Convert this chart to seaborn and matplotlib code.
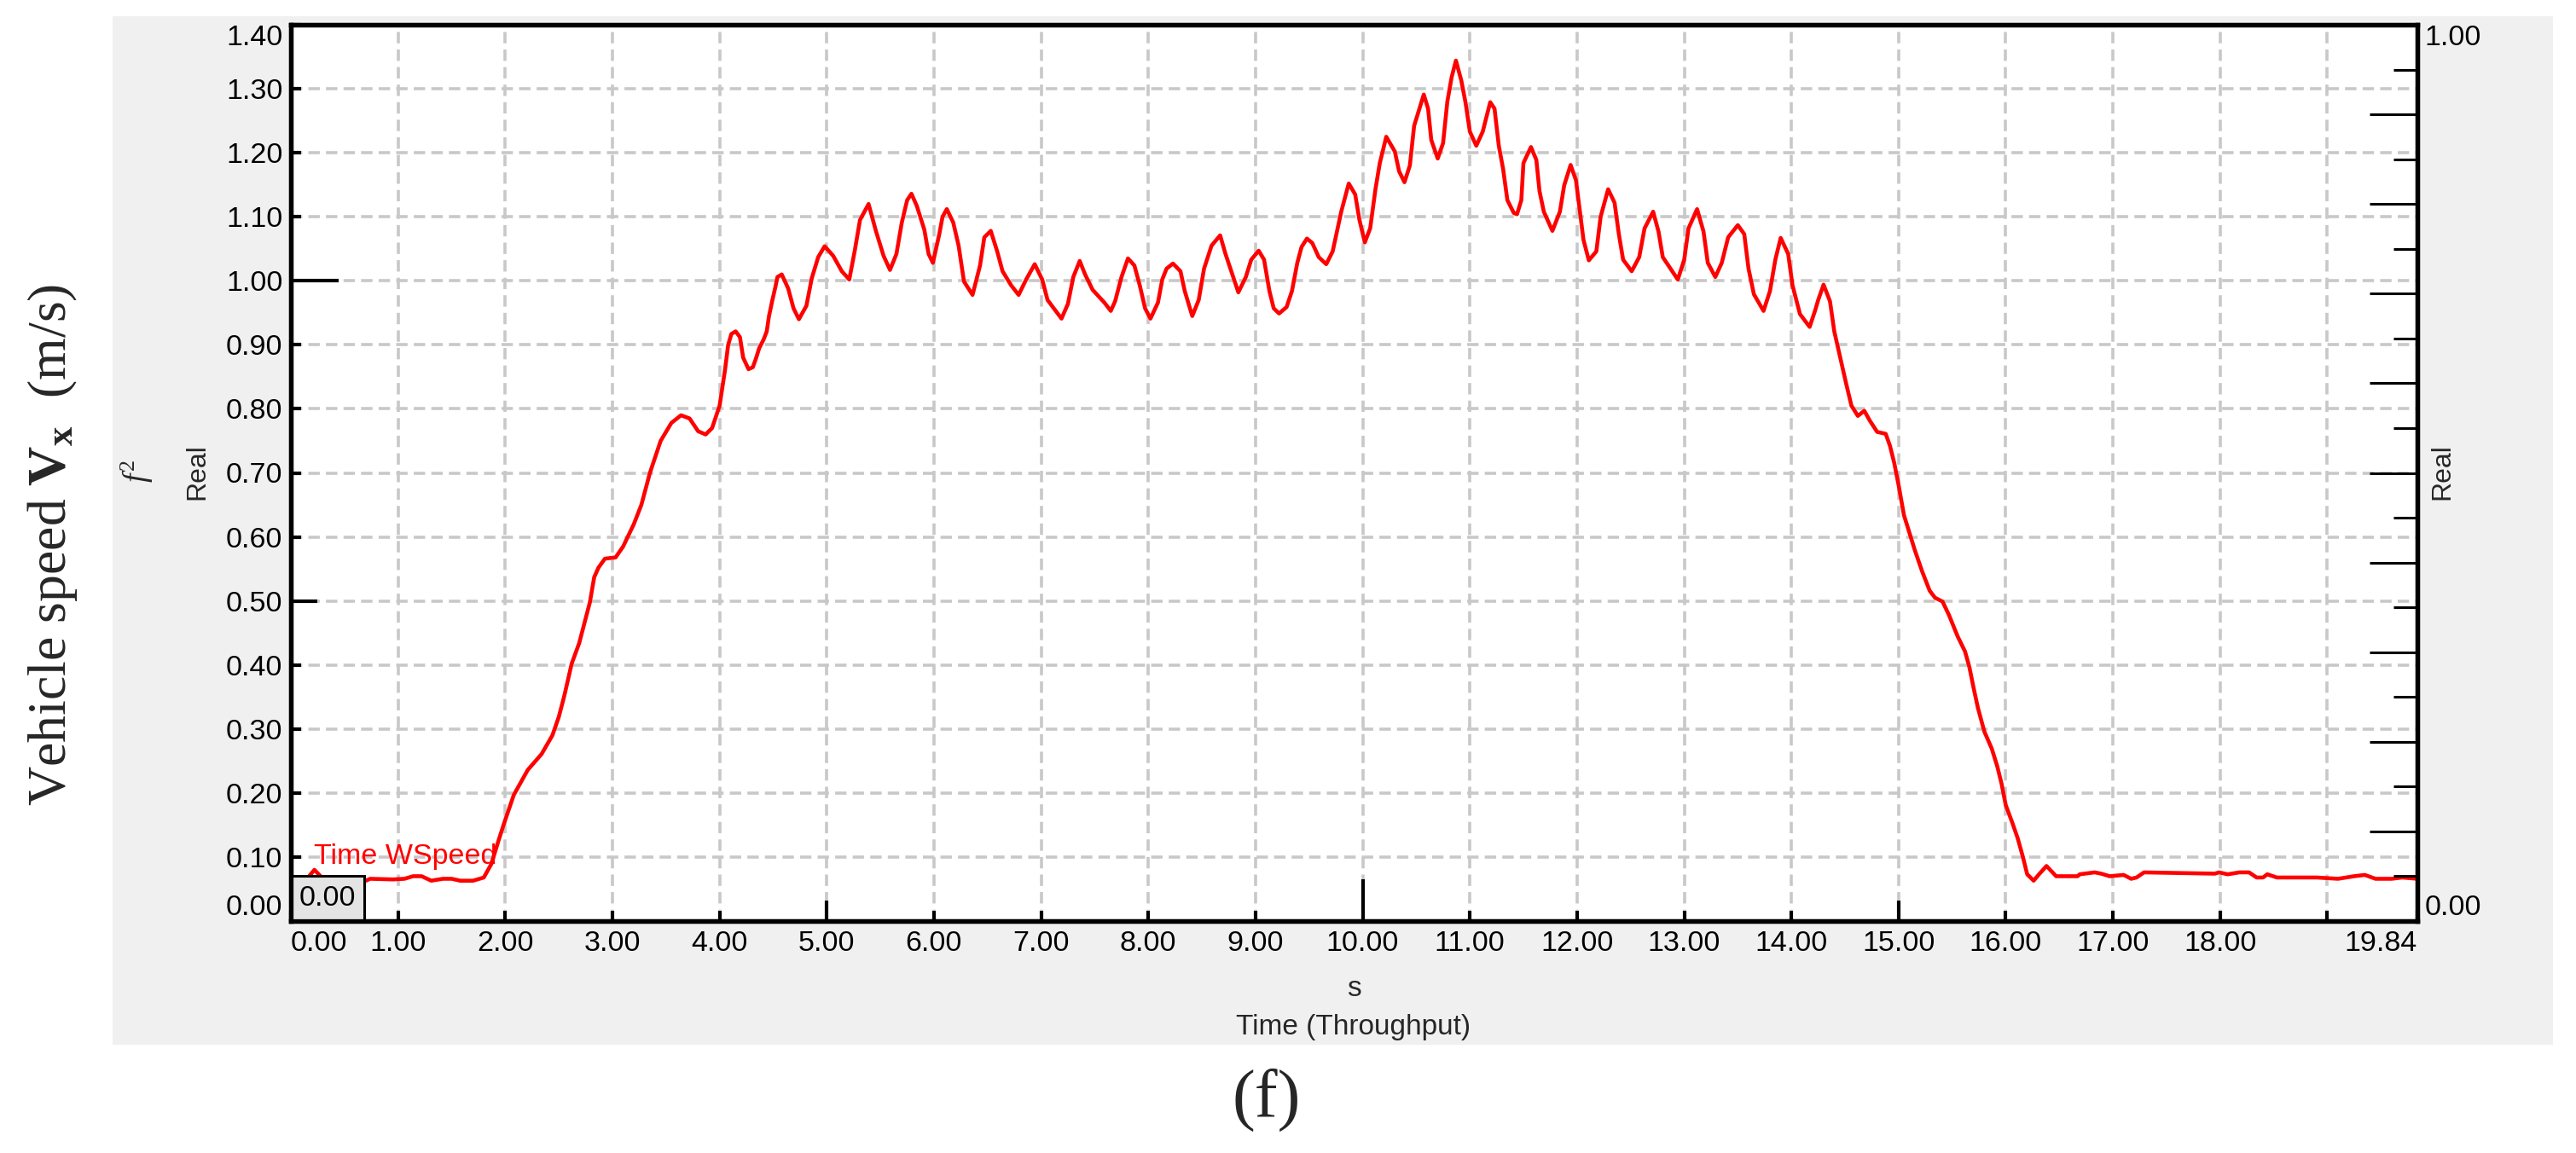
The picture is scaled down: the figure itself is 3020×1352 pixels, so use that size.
import numpy as np
import pandas as pd
import matplotlib
matplotlib.use("Agg")
import matplotlib.pyplot as plt
from matplotlib.patches import Rectangle
import seaborn as sns

# speed trace
time_s = [0.00, 0.15, 0.22, 0.30, 0.45, 0.70, 0.74, 0.95, 1.06, 1.14, 1.22, 1.31, 1.42, 1.50, 1.58, 1.70,
          1.80, 1.87, 1.94, 1.99, 2.08, 2.21, 2.34, 2.44, 2.50, 2.55, 2.62, 2.69, 2.74, 2.79, 2.83, 2.87,
          2.93, 3.03, 3.10, 3.20, 3.27, 3.35, 3.45, 3.55, 3.64, 3.72, 3.80, 3.87, 3.93, 4.00, 4.05, 4.08,
          4.11, 4.15, 4.19, 4.22, 4.27, 4.31, 4.34, 4.37, 4.41, 4.44, 4.46, 4.49, 4.52, 4.54, 4.58, 4.64,
          4.69, 4.74, 4.81, 4.86, 4.92, 4.98, 5.06, 5.14, 5.21, 5.26, 5.31, 5.39, 5.46, 5.53, 5.59, 5.65,
          5.70, 5.75, 5.79, 5.84, 5.91, 5.95, 5.99, 6.05, 6.08, 6.12, 6.18, 6.23, 6.28, 6.36, 6.43, 6.47,
          6.53, 6.59, 6.64, 6.72, 6.79, 6.86, 6.94, 7.01, 7.06, 7.19, 7.25, 7.30, 7.36, 7.41, 7.48, 7.59,
          7.65, 7.69, 7.75, 7.81, 7.87, 7.92, 7.97, 8.02, 8.09, 8.13, 8.17, 8.23, 8.30, 8.34, 8.41, 8.47,
          8.52, 8.59, 8.67, 8.72, 8.77, 8.84, 8.91, 8.96, 9.03, 9.08, 9.13, 9.17, 9.22, 9.29, 9.34, 9.39,
          9.43, 9.48, 9.53, 9.59, 9.66, 9.72, 9.76, 9.80, 9.87, 9.93, 9.97, 10.02, 10.07, 10.12, 10.16, 10.22,
          10.30, 10.34, 10.39, 10.44, 10.48, 10.57, 10.61, 10.64, 10.70, 10.75, 10.79, 10.83, 10.87, 10.92, 10.96, 11.00,
          11.06, 11.12, 11.19, 11.23, 11.27, 11.31, 11.35, 11.41, 11.44, 11.48, 11.50, 11.57, 11.62, 11.65, 11.69, 11.77,
          11.84, 11.88, 11.94, 11.99, 12.02, 12.06, 12.11, 12.18, 12.22, 12.29, 12.35, 12.39, 12.43, 12.51, 12.58, 12.63,
          12.71, 12.76, 12.80, 12.94, 13.00, 13.04, 13.12, 13.18, 13.22, 13.29, 13.35, 13.41, 13.50, 13.56, 13.60, 13.65,
          13.74, 13.80, 13.85, 13.90, 13.97, 14.01, 14.08, 14.17, 14.22, 14.25, 14.30, 14.36, 14.40, 14.46, 14.51, 14.56,
          14.62, 14.68, 14.73, 14.80, 14.88, 14.92, 14.96, 15.00, 15.05, 15.10, 15.15, 15.22, 15.29, 15.34, 15.41, 15.47,
          15.55, 15.62, 15.66, 15.70, 15.74, 15.80, 15.87, 15.92, 15.96, 16.00, 16.06, 16.11, 16.16, 16.20, 16.26, 16.31,
          16.38, 16.47, 16.67, 16.69, 16.83, 16.89, 16.97, 17.10, 17.17, 17.22, 17.29, 17.95, 17.99, 18.07, 18.18, 18.27,
          18.34, 18.40, 18.44, 18.53, 18.61, 18.90, 19.10, 19.25, 19.35, 19.45, 19.60, 19.70, 19.84]
speed = [0.062, 0.066, 0.080, 0.066, 0.063, 0.063, 0.066, 0.065, 0.066, 0.070, 0.070, 0.063, 0.066, 0.066, 0.063, 0.063,
         0.068, 0.089, 0.127, 0.153, 0.197, 0.236, 0.261, 0.290, 0.319, 0.351, 0.402, 0.434, 0.466, 0.498, 0.537, 0.552,
         0.566, 0.568, 0.585, 0.620, 0.650, 0.700, 0.750, 0.778, 0.790, 0.785, 0.765, 0.760, 0.770, 0.805, 0.860, 0.900,
         0.917, 0.921, 0.912, 0.880, 0.862, 0.865, 0.879, 0.895, 0.908, 0.921, 0.944, 0.968, 0.990, 1.006, 1.010, 0.988,
         0.957, 0.940, 0.961, 1.004, 1.037, 1.054, 1.039, 1.015, 1.002, 1.046, 1.095, 1.120, 1.077, 1.039, 1.017, 1.042,
         1.091, 1.126, 1.136, 1.117, 1.080, 1.042, 1.028, 1.073, 1.100, 1.112, 1.091, 1.055, 0.999, 0.978, 1.024, 1.068,
         1.078, 1.046, 1.015, 0.993, 0.978, 1.002, 1.026, 1.002, 0.970, 0.941, 0.964, 1.006, 1.031, 1.010, 0.986, 0.966,
         0.953, 0.968, 1.006, 1.035, 1.024, 0.993, 0.957, 0.941, 0.966, 1.002, 1.019, 1.027, 1.015, 0.984, 0.945, 0.970,
         1.019, 1.055, 1.071, 1.042, 1.017, 0.982, 1.006, 1.033, 1.047, 1.033, 0.984, 0.957, 0.949, 0.959, 0.984, 1.028,
         1.053, 1.066, 1.059, 1.037, 1.026, 1.046, 1.077, 1.108, 1.152, 1.135, 1.095, 1.060, 1.082, 1.144, 1.184, 1.225,
         1.202, 1.171, 1.154, 1.180, 1.242, 1.291, 1.269, 1.220, 1.191, 1.215, 1.280, 1.318, 1.344, 1.313, 1.278, 1.233,
         1.211, 1.233, 1.279, 1.269, 1.211, 1.175, 1.126, 1.106, 1.104, 1.126, 1.184, 1.209, 1.189, 1.140, 1.108, 1.078,
         1.108, 1.149, 1.181, 1.157, 1.117, 1.064, 1.032, 1.046, 1.100, 1.143, 1.122, 1.073, 1.033, 1.015, 1.037, 1.082,
         1.108, 1.077, 1.037, 1.002, 1.033, 1.082, 1.112, 1.077, 1.028, 1.006, 1.028, 1.068, 1.087, 1.073, 1.019, 0.979,
         0.953, 0.984, 1.033, 1.067, 1.042, 0.993, 0.948, 0.928, 0.953, 0.970, 0.994, 0.968, 0.921, 0.877, 0.840, 0.805,
         0.789, 0.797, 0.782, 0.764, 0.761, 0.742, 0.715, 0.681, 0.634, 0.607, 0.580, 0.546, 0.516, 0.505, 0.499, 0.478,
         0.445, 0.421, 0.397, 0.364, 0.333, 0.296, 0.269, 0.242, 0.215, 0.181, 0.154, 0.130, 0.100, 0.073, 0.063, 0.073,
         0.086, 0.070, 0.070, 0.073, 0.076, 0.074, 0.070, 0.072, 0.066, 0.068, 0.076, 0.074, 0.076, 0.073, 0.076, 0.076,
         0.068, 0.068, 0.073, 0.068, 0.068, 0.068, 0.066, 0.070, 0.072, 0.066, 0.066, 0.068, 0.066]

x_ticks = list(range(20)) + [19.84]
x_labels = ['%.2f' % t for t in range(19)] + ['', '19.84']
y_ticks = [round(0.1 * i, 1) for i in range(15)]
y_labels = ['%.2f' % v for v in y_ticks]
r_ticks = [round(0.05 * i, 2) for i in range(21)]
r_labels = ['0.00'] + [''] * 19 + ['1.00']

W, H = 3020, 1352
def fx(px):
    return px / W
def fy(py):
    return 1 - py / H

sns.set_theme(style='white')
plt.rcParams['font.family'] = ['Liberation Sans', 'DejaVu Sans']
plt.rcParams['mathtext.fontset'] = 'custom'
plt.rcParams['mathtext.rm'] = 'Liberation Serif'
plt.rcParams['mathtext.it'] = 'Liberation Serif:italic'
plt.rcParams['mathtext.bf'] = 'Liberation Serif:bold'

fig = plt.figure(figsize=(30.2, 13.52), dpi=100)
fig.patch.set_facecolor('white')
fig.add_artist(Rectangle((fx(132), fy(1225)), fx(2993) - fx(132), fy(19) - fy(1225),
                         transform=fig.transFigure, facecolor='#f0f0f0', edgecolor='none', zorder=-1))

ax = fig.add_axes([fx(341), fy(1080), fx(2834) - fx(341), fy(29) - fy(1080)])
ax.set_facecolor('white')

df = pd.DataFrame({'t': time_s, 'v': speed})
sns.lineplot(data=df, x='t', y='v', color='#ff0000', lw=3.3, sort=False, errorbar=None, ax=ax, zorder=3)

ax.set_xlim(0, 19.84)
ax.set_ylim(0, 1.40)
ax.set_xlabel('')
ax.set_ylabel('')
ax.set_xticks(x_ticks, x_labels)
ax.set_yticks(y_ticks, y_labels)
ax.set_axisbelow(True)
ax.grid(True, color='#c8c8c8', linestyle=(0, (3.7, 2.0)), linewidth=2.6)
for s in ax.spines.values():
    s.set_visible(True)
    s.set_color('black')
    s.set_linewidth(3.8)

ax.tick_params(axis='both', direction='in', length=8.6, width=3, color='black',
               labelcolor='black', labelsize=24.5, bottom=True, left=True, top=False, right=False)
ax.tick_params(axis='x', pad=8)
ax.tick_params(axis='y', pad=7)

for tick, val in zip(ax.xaxis.get_major_ticks(), x_ticks):
    if val == 10:
        tick.tick1line.set_markersize(35)
    elif val in (5, 15):
        tick.tick1line.set_markersize(17)
for tick, val in zip(ax.yaxis.get_major_ticks(), y_ticks):
    if val == 1.0:
        tick.tick1line.set_markersize(40)
    elif val == 0.5:
        tick.tick1line.set_markersize(22)

xl = ax.get_xticklabels()
xl[0].set_ha('left')
xl[-1].set_ha('right')
yl = ax.get_yticklabels()
yl[0].set_va('bottom')
yl[-1].set_va('top')

# right hand scale
ax2 = ax.twinx()
ax2.set_ylim(0, 1)
ax2.set_yticks(r_ticks, r_labels)
ax2.grid(False)
for s in ax2.spines.values():
    s.set_color('black')
    s.set_linewidth(3.8)
ax2.tick_params(axis='y', direction='in', right=True, left=False, length=20, width=2.2,
                color='black', labelcolor='black', labelsize=24.5, pad=6)
for tick, val in zip(ax2.yaxis.get_major_ticks(), r_ticks):
    if round(val * 20) % 2 == 0:
        tick.tick2line.set_markersize(40)
rl = ax2.get_yticklabels()
rl[0].set_va('bottom')
rl[-1].set_va('top')

# readout box and trace name
ax.add_patch(Rectangle((0, 0), 0.0345, 0.05, transform=ax.transAxes, facecolor='#e4e4e4',
                       edgecolor='black', linewidth=2.2, zorder=5, clip_on=False))
ax.text(0.0345 / 2, 0.025, '0.00', transform=ax.transAxes, ha='center', va='center',
        fontsize=24.5, color='black', zorder=6)
ax.text(0.0108, 0.0723, 'Time WSpeed', transform=ax.transAxes, ha='left', va='center',
        fontsize=24.5, color='#ff0000', zorder=6)

fig.text(fx(62), fy(639), 'Vehicle speed $\\mathbf{V_x}$  (m/s)', rotation=90, ha='center', va='center',
         family=['Liberation Serif'], fontsize=46)
fig.text(fx(161), fy(553), '$f^2$', rotation=90, ha='center', va='center', fontsize=27)
fig.text(fx(231), fy(553), 'Real', rotation=90, ha='center', va='center', fontsize=23)
fig.text(fx(2863), fy(553), 'Real', rotation=90, ha='center', va='center', fontsize=23)
fig.text(fx(1587), fy(1160), 's', ha='center', va='center', fontsize=24)
fig.text(fx(1587), fy(1205), 'Time (Throughput)', ha='center', va='center', fontsize=24)
fig.text(fx(1485), fy(1290), '(f)', ha='center', va='center', family=['Liberation Serif'], fontsize=58)

fig.savefig('out.png', dpi=100)
